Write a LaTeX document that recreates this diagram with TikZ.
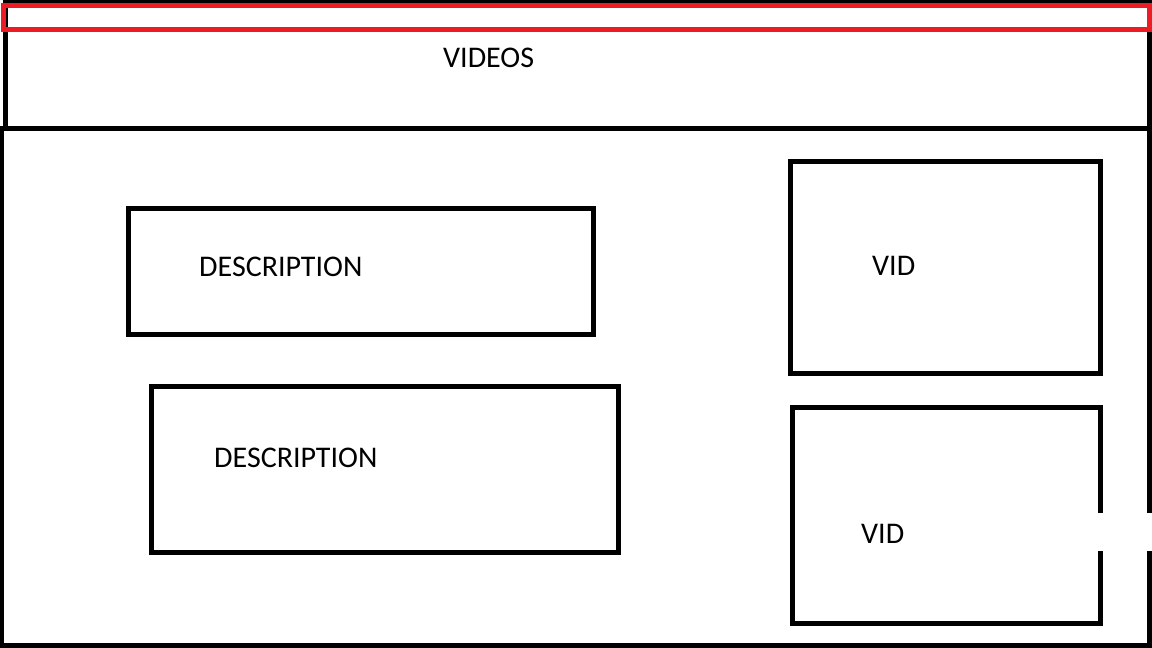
\documentclass[tikz,border=0pt]{standalone}
\usepackage{fontspec}
\setmainfont{Carlito}
\definecolor{paintred}{RGB}{237,28,36}
\begin{document}
\begin{tikzpicture}[x=1pt,y=-1pt,
  frame/.style={draw=black,line width=5pt,line join=miter},
  box/.style={draw=black,line width=5pt,line join=miter,rectangle,inner sep=0pt,outer sep=0pt},
  lbl/.style={font=\fontsize{30}{34}\selectfont,inner sep=0pt,anchor=base west,text=black}]
\useasboundingbox[fill=white] (0,0) rectangle (1152,648);
% header box
\draw[frame] (5.5,0.5) rectangle (1149.5,128);
% lower box with gap on right edge
\coordinate (lbTop) at (1149.5,128);
\coordinate (lbGapA) at (1149.5,513);
\coordinate (lbGapB) at (1149.5,551);
\draw[frame] (lbGapA) -- (lbTop) -- (0,128);
\draw[frame] (1.5,128) -- (1.5,645.5) -- (1149.5,645.5) -- (lbGapB);
% red selection bar
\draw[draw=paintred,line width=5pt,line join=miter] (3.5,5.5) rectangle (1149.5,29.5);
% boxes
\node[box,minimum width=465.5pt,minimum height=126pt] (d1) at (360.75,271.5) {};
\node[box,minimum width=467pt,minimum height=166pt] (d2) at (385,469.5) {};
\node[box,minimum width=310pt,minimum height=212pt] (v1) at (945.5,267.5) {};
\coordinate (v2a) at (1100.5,513);
\coordinate (v2b) at (1100.5,551);
\draw[frame] (v2a) -- (1100.5,407.5) -- (792.5,407.5) -- (792.5,623.5) -- (1100.5,623.5) -- (v2b);
% labels
\node[lbl] (tVideos) at (443,67) {VIDEOS};
\node[lbl] (tD1) at (199,276) {DESCRIPTION};
\node[lbl] (tD2) at (214,467) {DESCRIPTION};
\node[lbl] (tV1) at (872,275) {VID};
\node[lbl] (tV2) at (861,543) {VID};
\end{tikzpicture}
\end{document}
